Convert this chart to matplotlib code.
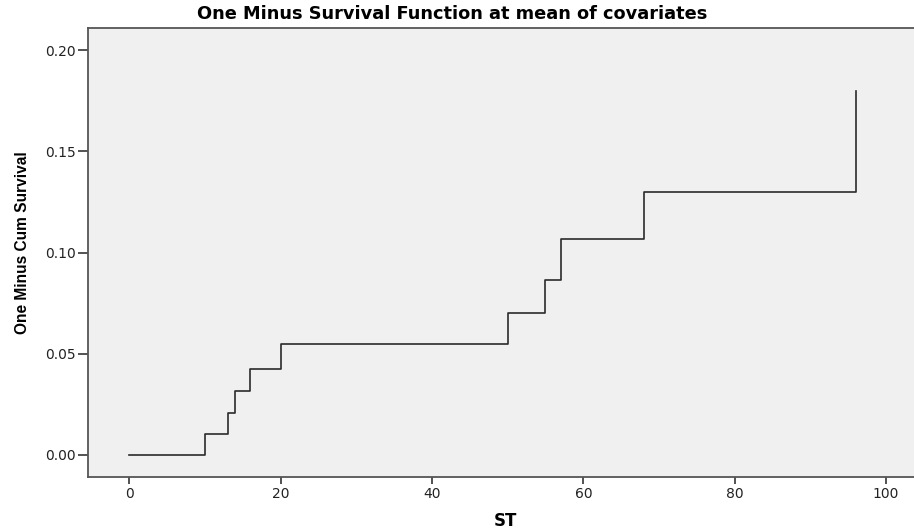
import matplotlib
matplotlib.use("Agg")
import matplotlib.pyplot as plt

# step points of the curve (time, one minus cum survival)
st = [0, 10, 13, 14, 16, 20, 50, 55, 57, 68, 96]
one_minus = [0.0, 0.0102, 0.0206, 0.0316, 0.0426, 0.0548, 0.070, 0.0863, 0.1067, 0.130, 0.180]

xticks = [0, 20, 40, 60, 80, 100]
yticks = [0.00, 0.05, 0.10, 0.15, 0.20]

plt.rcParams['font.family'] = ['DejaVu Sans']

fig = plt.figure(figsize=(9.14, 5.31), dpi=100)
ax = fig.add_axes([88/914, 1 - 477/531, (914 - 88)/914 + 0.01, (477 - 28)/531])
ax.set_facecolor("#f0f0f0")

ax.step(st, one_minus, where="post", color="#2b2b2b", linewidth=1.2)

ax.set_xlim(-5.45, 104.9)
ax.set_ylim(-0.0109, 0.2109)
ax.set_xticks(xticks)
ax.set_xticklabels([str(t) for t in xticks])
ax.set_yticks(yticks)
ax.set_yticklabels(["%.2f" % t for t in yticks])

for s in ax.spines.values():
    s.set_color("#555555")
    s.set_linewidth(1.3)
ax.tick_params(axis="x", length=5, width=1.3, color="#444444", labelsize=10, pad=2,
               labelcolor="#222222")
ax.tick_params(axis="y", length=7.5, width=1.3, color="#444444", labelsize=10, pad=1,
               labelcolor="#222222")

ax.set_title("One Minus Survival Function at mean of covariates", fontsize=12.8,
             fontweight="bold", pad=6.5, x=0.436)
ax.set_xlabel("ST", fontsize=12, fontweight="bold", labelpad=8)
ax.set_ylabel("One Minus Cum Survival", fontsize=11.2, fontweight="bold",
              family=['Liberation Sans Narrow', 'Liberation Sans', 'DejaVu Sans'])
ax.yaxis.set_label_coords(-0.069, 0.521)

fig.savefig("out.png", dpi=100)
